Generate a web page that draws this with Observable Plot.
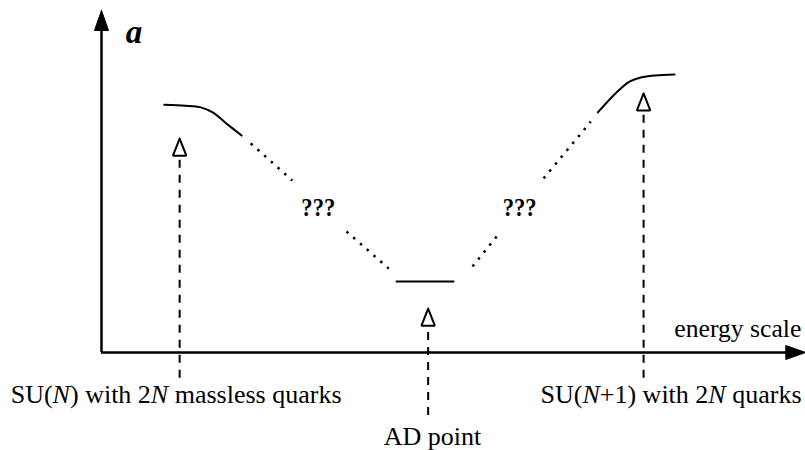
<!DOCTYPE html>
<html><head><meta charset="utf-8">
<script src="https://cdn.jsdelivr.net/npm/d3@7"></script>
<script src="https://cdn.jsdelivr.net/npm/@observablehq/plot@0.6"></script>
<style>body{margin:0;background:#fff}#c{width:805px;height:450px}</style>
</head><body><div id="c"></div>
<script>
// Abstract units: x = energy scale (0..100), y = a (0..100)
const leftCurveX = [8.9, 11.9, 14.1, 15.8, 17.6, 19.9];
const leftCurveY = [72.9, 72.6, 72.1, 70.6, 67.6, 63.8];
const rightCurveX = [70.5, 73.0, 75.0, 76.6, 78.7, 81.4];
const rightCurveY = [70.6, 76.2, 79.7, 80.9, 81.5, 81.8];
const plateauX = [41.9, 50.0];
const plateauY = [20.9, 20.9];
const dotX1 = [21.2, 34.8, 52.7, 62.8];
const dotY1 = [61.5, 35.6, 25.3, 51.2];
const dotX2 = [27.1, 40.8, 56.7, 69.5];
const dotY2 = [50.6, 24.7, 35.6, 67.9];
const qLabelX = [30.8, 59.4];
const qLabelY = [42.4, 42.4];
const arrowX = [11.1, 46.4, 77.0];
const arrowTail = [-7.6, -18.5, -7.6];
const arrowTip = [62.9, 12.9, 76.2];
const pointLabels = ["SU(*N*) with 2*N* massless quarks", "AD point", "SU(*N*+1) with 2*N* quarks"];
const pointLabelX = [10.6, 47.0, 80.9];
const pointLabelY = [-12.4, -24.8, -12.4];

// styling (text fitted widths, px) for single-run texts
const fitWidth = {"???": 34, "energy scale": 127};

const headLen = 5.0, headHalf = 0.95;
const leftCurve = leftCurveX.map((x, i) => ({x, y: leftCurveY[i]}));
const rightCurve = rightCurveX.map((x, i) => ({x, y: rightCurveY[i]}));
const plateau = plateauX.map((x, i) => ({x, y: plateauY[i]}));
const dots = dotX1.map((x1, i) => ({x1, y1: dotY1[i], x2: dotX2[i], y2: dotY2[i]}));
const qLabels = qLabelX.map((x, i) => ({x, y: qLabelY[i], t: "???"}));
const shafts = arrowX.map((x, i) => ({x, y1: arrowTail[i], y2: arrowTip[i] - headLen}));
const heads = arrowX.flatMap((x, i) => [
  {x, y: arrowTip[i], z: i},
  {x: x - headHalf, y: arrowTip[i] - headLen, z: i},
  {x: x + headHalf, y: arrowTip[i] - headLen, z: i},
  {x, y: arrowTip[i], z: i}
]);
const labels = pointLabels.map((t, i) => ({t, x: pointLabelX[i], y: pointLabelY[i]}));
const axisHeads = [
  {x: 0, y: 100.6, z: 0}, {x: -1.0, y: 94.7, z: 0}, {x: 1.0, y: 94.7, z: 0}, {x: 0, y: 100.6, z: 0},
  {x: 100, y: 0, z: 1}, {x: 97.2, y: 2.06, z: 1}, {x: 97.2, y: -2.06, z: 1}, {x: 100, y: 0, z: 1}
];

const serif = "Liberation Serif, Times New Roman, serif";
const chart = Plot.plot({
  width: 805, height: 450,
  marginLeft: 101, marginRight: 0, marginTop: 12, marginBottom: 98,
  x: {domain: [0, 100], axis: null},
  y: {domain: [0, 100], axis: null},
  style: {fontFamily: serif, background: "white"},
  marks: [
    Plot.ruleX([0], {y1: 0, y2: 96, stroke: "black", strokeWidth: 2.5}),
    Plot.ruleY([0], {x1: 0, x2: 98, stroke: "black", strokeWidth: 2.5}),
    Plot.line(axisHeads, {x: "x", y: "y", z: "z", fill: "black", stroke: "black", strokeWidth: 1}),
    Plot.line(leftCurve, {x: "x", y: "y", curve: "catmull-rom", stroke: "black", strokeWidth: 2}),
    Plot.line(rightCurve, {x: "x", y: "y", curve: "catmull-rom", stroke: "black", strokeWidth: 2}),
    Plot.line(plateau, {x: "x", y: "y", stroke: "black", strokeWidth: 2}),
    Plot.link(dots, {x1: "x1", y1: "y1", x2: "x2", y2: "y2", stroke: "black", strokeWidth: 2.5, strokeDasharray: "2.5,6.5"}),
    Plot.ruleX(shafts, {x: "x", y1: "y1", y2: "y2", stroke: "black", strokeWidth: 2, strokeDasharray: "8,7"}),
    Plot.line(heads, {x: "x", y: "y", z: "z", fill: "white", stroke: "black", strokeWidth: 2, strokeLinejoin: "miter"}),
    Plot.text(qLabels, {x: "x", y: "y", text: "t", fontSize: 25, fontWeight: "bold", fill: "black"}),
    Plot.text(labels, {x: "x", y: "y", text: "t", fontSize: 26, fill: "black"}),
    Plot.text(["energy scale"], {x: 99.4, y: 7, text: d => d, textAnchor: "end", fontSize: 25, fill: "black"}),
    Plot.text(["a"], {x: 4.6, y: 94.1, text: d => d, fontSize: 33, fontWeight: "bold", fontStyle: "italic", fill: "black"})
  ]
});
// italic markup *...* and fitted widths
d3.select(chart).selectAll("text").each(function() {
  const s = this.textContent;
  const plain = s.replace(/\*/g, "");
  if (s.includes("*")) {
    const parts = s.split("*");
    this.textContent = "";
    parts.forEach((p, i) => {
      if (!p) return;
      const ts = document.createElementNS("http://www.w3.org/2000/svg", "tspan");
      ts.textContent = p;
      if (i % 2 === 1) ts.setAttribute("font-style", "italic");
      this.appendChild(ts);
    });
  }
  if (fitWidth[plain]) {
    this.setAttribute("textLength", fitWidth[plain]);
    this.setAttribute("lengthAdjust", "spacingAndGlyphs");
  }
});
document.getElementById("c").appendChild(chart);
</script></body></html>
